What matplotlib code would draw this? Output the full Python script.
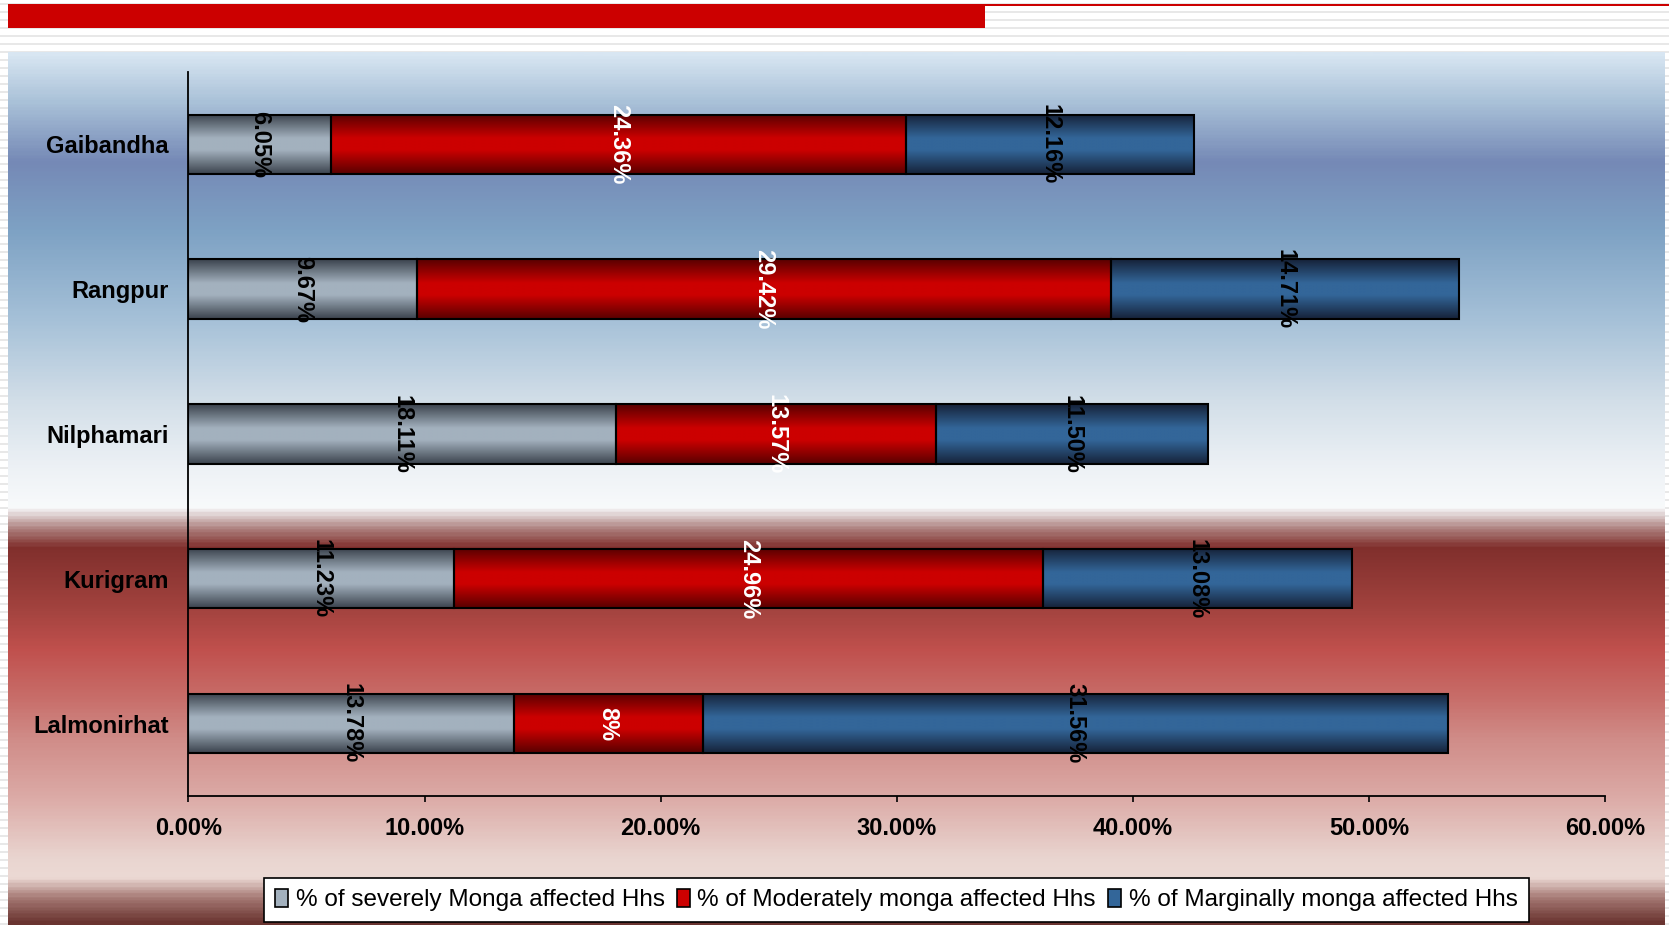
import numpy as np
import matplotlib
matplotlib.use('Agg')
import matplotlib.pyplot as plt
from matplotlib.colors import LinearSegmentedColormap
from matplotlib.patches import Rectangle

districts = ['Gaibandha', 'Rangpur', 'Nilphamari', 'Kurigram', 'Lalmonirhat']
severe = [6.05, 9.67, 18.11, 11.23, 13.78]
moderate = [24.36, 29.42, 13.57, 24.96, 8.0]
marginal = [12.16, 14.71, 11.50, 13.08, 31.56]
severe_lbl = ['6.05%', '9.67%', '18.11%', '11.23%', '13.78%']
moderate_lbl = ['24.36%', '29.42%', '13.57%', '24.96%', '8%']
marginal_lbl = ['12.16%', '14.71%', '11.50%', '13.08%', '31.56%']
series_names = ['% of severely Monga affected Hhs',
                '% of Moderately monga affected Hhs',
                '% of Marginally monga affected Hhs']
xticks = [0, 10, 20, 30, 40, 50, 60]

W, H = 1669, 925
fig = plt.figure(figsize=(W / 100, H / 100), dpi=100)
fig.patch.set_facecolor('white')

# slide background: stripes, red header, gradient panel
bg = fig.add_axes([0, 0, 1, 1], zorder=0)
bg.axis('off')
bg.hlines(np.arange(4, H, 8), 0, W, color='#e2e2e2', lw=1.1, zorder=0.5)
bg.add_patch(Rectangle((8, 4), 977, 24, color='#cc0000', lw=0, zorder=2))
bg.add_patch(Rectangle((985, 4), W - 985, 2, color='#cc0000', lw=0, zorder=2))

stops = [(52, '#d8e6f2'), (100, '#a9c1d8'), (160, '#7589b6'), (230, '#7ea2c4'),
         (320, '#a6c1d8'), (400, '#d2dee8'), (470, '#eef2f6'), (508, '#f8fafb'),
         (528, '#b08583'), (548, '#802f2c'), (610, '#a3433f'), (650, '#c0504d'),
         (700, '#c86e6a'), (740, '#d08c88'), (800, '#dcaba7'), (860, '#e9d5d0'),
         (880, '#ecd9d4'), (900, '#a67a75'), (925, '#6a3430')]
panel_cmap = LinearSegmentedColormap.from_list(
    'panel', [((y - 52) / (925 - 52), c) for y, c in stops])
grad = np.linspace(0, 1, 600).reshape(-1, 1)
bg.imshow(grad, cmap=panel_cmap, extent=(8, 1664, 925, 52), aspect='auto',
          origin='upper', interpolation='bilinear', zorder=1)
bg.set_xlim(0, W)
bg.set_ylim(H, 0)

# chart
ax = fig.add_axes([0.1129, 0.1395, 0.8488, 0.7827], zorder=1)
ax.patch.set_alpha(0)

bar_cmaps = [
    LinearSegmentedColormap.from_list('g', [(0, '#3c444e'), (0.4, '#a3b1be'), (0.6, '#a3b1be'), (1, '#3c444e')]),
    LinearSegmentedColormap.from_list('r', [(0, '#5a0000'), (0.4, '#cc0000'), (0.6, '#cc0000'), (1, '#5a0000')]),
    LinearSegmentedColormap.from_list('b', [(0, '#16233a'), (0.4, '#336699'), (0.6, '#336699'), (1, '#16233a')]),
]
mid_colors = ['#a3b1be', '#cc0000', '#336699']
text_colors = ['black', 'white', 'black']

y = np.arange(len(districts))
left = np.zeros(len(districts))
bar_grad = np.linspace(0, 1, 100).reshape(-1, 1)
for vals, lbls, cm, tc in zip([severe, moderate, marginal],
                              [severe_lbl, moderate_lbl, marginal_lbl],
                              bar_cmaps, text_colors):
    bars = ax.barh(y, vals, left=left, height=0.41, facecolor='none',
                   edgecolor='black', lw=1.5, zorder=3)
    for b, lab in zip(bars, lbls):
        x0, w = b.get_x(), b.get_width()
        y0, h = b.get_y(), b.get_height()
        ax.imshow(bar_grad, cmap=cm, extent=(x0, x0 + w, y0 + h, y0),
                  aspect='auto', origin='upper', zorder=2, interpolation='bilinear')
        ax.text(x0 + w / 2, y0 + h / 2, lab, rotation=270, ha='center', va='center',
                fontsize=17, fontweight='bold', color=tc, family='Liberation Sans',
                zorder=4)
    left = left + np.array(vals)

ax.set_xlim(0, 60)
ax.set_ylim(len(districts) - 0.5, -0.5)
ax.set_xticks(xticks)
ax.set_xticklabels(['%.2f%%' % t for t in xticks], fontsize=17, fontweight='bold',
                   family='Liberation Sans')
ax.set_yticks(y)
ax.set_yticklabels(districts, fontsize=17, fontweight='bold', family='Liberation Sans')
ax.tick_params(axis='x', direction='out', length=4.5, width=1.2, pad=11)
ax.tick_params(axis='y', length=0, pad=14)
for s in ['top', 'right']:
    ax.spines[s].set_visible(False)
for s in ['left', 'bottom']:
    ax.spines[s].set_linewidth(1.3)

handles = [Rectangle((0, 0), 1, 1, facecolor=c, edgecolor='black', lw=1.2) for c in mid_colors]
leg = fig.legend(handles, series_names, loc='center', bbox_to_anchor=(0.537, 0.027),
                 ncol=3, frameon=True, fancybox=False, edgecolor='black', framealpha=1,
                 borderpad=0.45, handlelength=0.55, handleheight=0.8, handletextpad=0.3,
                 columnspacing=0.5, prop={'family': 'Liberation Sans', 'size': 17.5})
leg.get_frame().set_linewidth(1.2)
leg.set_zorder(5)

fig.savefig('out.png', dpi=100)
